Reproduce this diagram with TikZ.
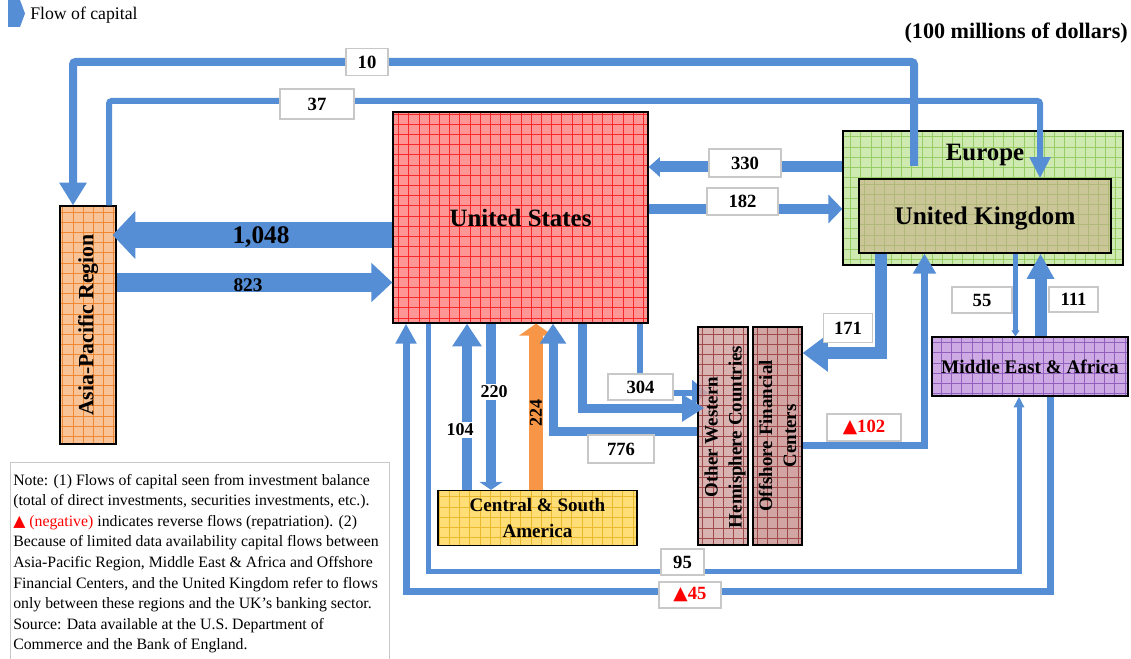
\documentclass[tikz,border=0pt]{standalone}
\usepackage{fontspec}
\setmainfont{Liberation Serif}
\newfontfamily\symfont{DejaVu Sans}
\usetikzlibrary{arrows.meta}
\pgfdeclarelayer{back}
\pgfsetlayers{back,main}
\definecolor{flow}{RGB}{86,142,213}
\definecolor{orangeflow}{RGB}{246,150,70}
\definecolor{usfill}{RGB}{255,150,150}
\definecolor{usgrid}{RGB}{250,40,40}
\definecolor{eufill}{RGB}{206,234,176}
\definecolor{eugrid}{RGB}{150,205,100}
\definecolor{ukfill}{RGB}{203,198,152}
\definecolor{ukgrid}{RGB}{175,185,120}
\definecolor{apfill}{RGB}{248,195,150}
\definecolor{apgrid}{RGB}{240,135,50}
\definecolor{csafill}{RGB}{255,222,120}
\definecolor{csagrid}{RGB}{235,185,45}
\definecolor{ofcfill}{RGB}{210,165,165}
\definecolor{ofcgrid}{RGB}{160,75,75}
\definecolor{meafill}{RGB}{205,170,228}
\definecolor{meagrid}{RGB}{145,95,190}
\definecolor{lblgray}{RGB}{200,200,200}
\definecolor{negred}{RGB}{255,0,0}
\tikzset{
  regionbox/.style 2 args={draw=black, line width=0.9pt, fill=#1, inner sep=0pt, font=\bfseries, align=center,
    path picture={\draw[#2, line width=0.45pt] (path picture bounding box.south west) grid[step=7.65pt] (path picture bounding box.north east);}},
  lbl/.style={draw=lblgray, fill=white, line width=0.9pt, inner sep=0pt, font=\bfseries\fontsize{14}{16}\selectfont},
  flowline/.style={draw=flow, line join=miter},
  bignum/.style={inner sep=0pt, font=\bfseries\fontsize{#1}{#1}\selectfont},
}
\begin{document}
\begin{tikzpicture}[x=0.75pt,y=-0.75pt]
\useasboundingbox (0,0) rectangle (1131,659);

% legend and unit
\fill[flow] (8,0) -- (20,0) -- (25,13.5) -- (20,27) -- (8,27) -- cycle;
\node[anchor=west, inner sep=0pt, font=\fontsize{13.3}{15}\selectfont] (legend) at (30,15) {Flow of capital};
\node[anchor=east, inner sep=0pt, font=\bfseries\fontsize{16.6}{18}\selectfont] (unit) at (1128,33) {(100 millions of dollars)};

% regions
\node[regionbox={usfill}{usgrid}, minimum width=191.25pt, minimum height=158.25pt, text depth=0pt, font=\bfseries\fontsize{18.7}{20}\selectfont] (us) at (520.5,217.5) {United States};
\node[regionbox={eufill}{eugrid}, minimum width=210pt, minimum height=100.5pt] (eu) at (983,198) {};
\node[inner sep=0pt, font=\bfseries\fontsize{18.7}{20}\selectfont] (eulabel) at (985,155) {Europe};
\node[regionbox={ukfill}{ukgrid}, minimum width=189pt, minimum height=55.5pt, text depth=0pt, font=\bfseries\fontsize{19}{20}\selectfont] (uk) at (985,216) {United Kingdom};
\node[regionbox={apfill}{apgrid}, minimum width=178.5pt, minimum height=42pt, rotate=90, font=\bfseries\fontsize{16.3}{18}\selectfont] (ap) at (88,325) {Asia-Pacific Region};
\node[regionbox={csafill}{csagrid}, minimum width=149.25pt, minimum height=41.25pt, font=\bfseries\fontsize{14.3}{19.5}\selectfont] (csa) at (537.5,518) {Central \& South\\America};
\node[regionbox={meafill}{meagrid}, minimum width=147pt, minimum height=44.25pt, font=\bfseries\fontsize{14.4}{16}\selectfont] (mea) at (1030,366.5) {Middle East \& Africa};

% thin arrow partly under OWHC
\coordinate (xthin) at (640,0);
\coordinate (ythin) at (0,393);
\begin{pgfonlayer}{back}
\draw[flowline, line width=4.5pt, -{Triangle[width=19pt,length=12pt]}] (xthin |- us.south) -- (xthin |- ythin) -- (708,393);
\end{pgfonlayer}

\node[regionbox={ofcfill}{ofcgrid}, minimum width=37.5pt, minimum height=163.5pt, fill opacity=0.85] (owhc) at (723,436) {};
\node[regionbox={ofcfill}{ofcgrid}, minimum width=36.75pt, minimum height=163.5pt] (ofc) at (777.5,436) {};
\node[rotate=90, inner sep=0pt, align=center, font=\bfseries\fontsize{14.2}{18}\selectfont] (owhclabel) at (725,437) {Other Western\\Hemisphere Countries};
\node[rotate=90, inner sep=0pt, align=center, font=\bfseries\fontsize{14.2}{18}\selectfont] (ofclabel) at (777.5,436) {Offshore Financial\\Centers};

% note
\node[draw=lblgray, line width=0.75pt, minimum width=284.25pt, minimum height=147.75pt, inner sep=0pt] (note) at (199.5,560.5) {};
\node[anchor=north west, align=left, inner sep=0pt, font=\fontsize{11.85}{15.4}\selectfont] (notetext) at (13,474) {Note: (1) Flows of capital seen from investment balance\\
(total of direct investments, securities investments, etc.).\\
{\color{negred}{\symfont ▲} (negative)} indicates reverse flows (repatriation). (2)\\
Because of limited data availability capital flows between\\
Asia-Pacific Region, Middle East \& Africa and Offshore\\
Financial Centers, and the United Kingdom refer to flows\\
only between these regions and the UK’s banking sector.\\
Source: Data available at the U.S. Department of\\
Commerce and the Bank of England.};

% coordinates of bends
\coordinate (s10) at (914,166);
\coordinate (k10a) at (914,62);
\coordinate (k10b) at (73,62);
\coordinate (k37a) at (109,101);
\coordinate (k37b) at (1040,101);
\coordinate (y330) at (0,167);
\coordinate (y182) at (0,209);
\coordinate (y1048) at (0,235);
\coordinate (y823) at (0,282.5);
\coordinate (x104) at (467,0);
\coordinate (x220) at (491,0);
\coordinate (x224) at (536,0);
\coordinate (k776) at (553,431.5);
\coordinate (k304) at (582.5,408);
\coordinate (k171) at (881,353);
\coordinate (k102) at (924.5,445);
\coordinate (x55) at (1015.5,0);
\coordinate (x111) at (1040.5,0);
\coordinate (k95a) at (428,571);
\coordinate (k95b) at (1019,571);
\coordinate (k45a) at (1050,591);
\coordinate (k45b) at (406,591);

% flows
\draw[flowline, line width=6pt, rounded corners=2pt, -{Triangle[width=19.5pt,length=17pt]}] (s10) -- (k10a) -- (k10b) -- (k10b |- ap.east);
\draw[flowline, line width=4.5pt, rounded corners=2pt, -{Triangle[width=15pt,length=16pt]}] (k37a |- ap.east) -- (k37a) -- (k37b) -- (k37b |- uk.north);
\draw[flowline, line width=8.25pt, -{Triangle[width=14.5pt,length=8.5pt]}] (eu.west |- y330) -- (us.east |- y330);
\draw[flowline, line width=7.5pt, -{Triangle[width=21pt,length=10.5pt]}] (us.east |- y182) -- (eu.west |- y182);
\draw[flowline, line width=19.5pt, shorten >=-3pt, -{Triangle[width=35pt,length=17pt]}] (us.west |- y1048) -- (ap.south |- y1048);
\draw[flowline, line width=14.25pt, -{Triangle[width=28.5pt,length=15.75pt]}] (ap.south |- y823) -- (us.west |- y823);
\draw[draw=orangeflow, line width=10.5pt, -{Triangle[width=25pt,length=9pt]}] (x224 |- csa.north) -- (x224 |- us.south);
\draw[flowline, line width=7.5pt, -{Triangle[width=21pt,length=17pt]}] (x104 |- csa.north) -- (x104 |- us.south);
\draw[flowline, line width=7.5pt, -{Triangle[width=17pt,length=6pt]}] (x220 |- us.south) -- (x220 |- csa.north);
\draw[flowline, line width=6.75pt, -{Triangle[width=19pt,length=15pt]}] (owhc.west |- k776) -- (k776) -- (k776 |- us.south);
\draw[flowline, line width=6.75pt, shorten >=-5pt, -{Triangle[width=19.5pt,length=16.5pt]}] (k304 |- us.south) -- (k304) -- (owhc.west |- k304);
\draw[flowline, line width=9pt, -{Triangle[width=27pt,length=19pt]}] (k171 |- uk.south) -- (k171) -- (ofc.east |- k171);
\draw[flowline, line width=5.25pt, -{Triangle[width=16.5pt,length=15pt]}] (ofc.east |- k102) -- (k102) -- (k102 |- uk.south);
\draw[flowline, line width=3.4pt, -{Triangle[width=6pt,length=4.5pt]}] (x55 |- uk.south) -- (x55 |- mea.north);
\draw[flowline, line width=9pt, -{Triangle[width=19.5pt,length=19pt]}] (x111 |- mea.north) -- (x111 |- uk.south);
\draw[flowline, line width=3.75pt, -{Triangle[width=7.5pt,length=8pt]}] (k95a |- us.south) -- (k95a) -- (k95b) -- (k95b |- mea.south);
\draw[flowline, line width=5.25pt, -{Triangle[width=15pt,length=15pt]}] (k45a |- mea.south) -- (k45a) -- (k45b) -- (k45b |- us.south);

% labels
\node[lbl, minimum width=31.5pt, minimum height=20.25pt] (l10) at (367,62) {10};
\node[lbl, minimum width=55.5pt, minimum height=22.5pt] (l37) at (317,104) {37};
\node[lbl, minimum width=54pt, minimum height=21pt] (l330) at (745,163) {330};
\node[lbl, minimum width=53.25pt, minimum height=20.25pt] (l182) at (742.5,201.5) {182};
\node[lbl, minimum width=48.75pt, minimum height=19.5pt] (l304) at (640.5,387) {304};
\node[lbl, minimum width=49.5pt, minimum height=21pt] (l776) at (621,449) {776};
\node[lbl, minimum width=36.75pt, minimum height=21.75pt] (l171) at (848,328) {171};
\node[lbl, minimum width=55.5pt, minimum height=20.25pt, text=negred] (l102) at (864,427.5) {{\symfont ▲}102};
\node[lbl, minimum width=45pt, minimum height=19.5pt] (l55) at (982,300) {55};
\node[lbl, minimum width=36.75pt, minimum height=18.75pt] (l111) at (1073.5,299.5) {111};
\node[lbl, minimum width=32.25pt, minimum height=19.5pt] (l95) at (682.5,562) {95};
\node[lbl, minimum width=46.5pt, minimum height=19.5pt, text=negred] (l45) at (690,595) {{\symfont ▲}45};
\node[bignum=19] (l1048) at (261,237) {1,048};
\node[bignum=14.5] (l823) at (248,285) {823};
\node[fill=white, inner sep=1.5pt, font=\bfseries\fontsize{13.5}{14}\selectfont] (l104) at (460,430) {104};
\node[fill=white, inner sep=1.5pt, font=\bfseries\fontsize{13.5}{14}\selectfont] (l220) at (494,392) {220};
\node[rotate=90, inner sep=0pt, font=\bfseries\fontsize{13.5}{14}\selectfont] (l224) at (536,413) {224};
\end{tikzpicture}
\end{document}
